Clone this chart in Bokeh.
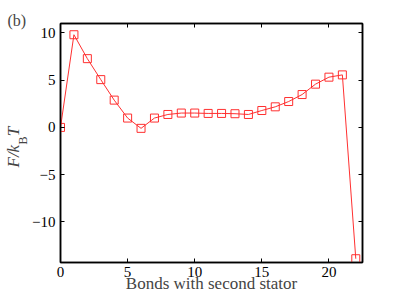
import math
from bokeh.plotting import figure
from bokeh.models import Range1d, LinearAxis, Label, FixedTicker, CustomJSTickFormatter
from bokeh.embed import file_html
from bokeh.resources import INLINE

# ---- data ----
bonds = list(range(0, 23))
free_energy = [0.0, 9.81, 7.28, 5.06, 2.89, 0.99, -0.10, 0.99, 1.37, 1.52, 1.52,
               1.48, 1.48, 1.45, 1.37, 1.79, 2.18, 2.74, 3.48, 4.58, 5.32, 5.56, -13.9]
x_ticks = [0, 5, 10, 15, 20]
y_ticks = [-10, -5, 0, 5, 10]
y_tick_labels = {-10: "\u221210", -5: "\u22125", 0: "0", 5: "5", 10: "10"}
x_label = "Bonds with second stator"
y_label_main = "F/k\u2002T"   # F/k _ T (space left for the subscript)
y_label_sub = "B"
panel_tag = "(b)"

FONT = "Liberation Serif"
RED = "#ff3030"

p = figure(width=399, height=300, output_backend="svg", toolbar_location=None,
           x_range=Range1d(0, 22.5), y_range=Range1d(-14.3, 11.0),
           x_axis_type=None, y_axis_type=None,
           min_border_left=60, min_border_right=37, min_border_top=23, min_border_bottom=38)
p.grid.visible = False
p.outline_line_color = "black"
p.outline_line_width = 1.5
p.background_fill_color = "white"
p.border_fill_color = "white"

def style_axis(ax, ticks, show_labels):
    ax.ticker = FixedTicker(ticks=ticks)
    ax.major_tick_in = 4
    ax.major_tick_out = 0
    ax.major_tick_line_color = "black"
    ax.major_tick_line_width = 1
    ax.minor_tick_line_color = None
    ax.axis_line_color = "black"
    ax.axis_line_width = 1.5
    ax.major_label_text_font = FONT
    ax.major_label_text_font_size = "15px"
    ax.major_label_text_color = "black"
    if not show_labels:
        ax.formatter = CustomJSTickFormatter(code="return ''")
        ax.major_label_text_font_size = "0px"
        ax.major_label_standoff = 0

xb = LinearAxis()
style_axis(xb, x_ticks, True)
xb.major_label_standoff = 4
xb.axis_label = x_label
xb.axis_label_text_font = FONT
xb.axis_label_text_font_size = "17px"
xb.axis_label_text_font_style = "normal"
xb.axis_label_standoff = -6
p.add_layout(xb, "below")

yl = LinearAxis()
style_axis(yl, y_ticks, True)
yl.major_label_standoff = 5
yl.major_label_overrides = y_tick_labels
p.add_layout(yl, "left")

xt = LinearAxis()
style_axis(xt, x_ticks, False)
p.add_layout(xt, "above")

yr = LinearAxis()
style_axis(yr, y_ticks, False)
p.add_layout(yr, "right")

p.line(bonds, free_energy, line_color=RED, line_width=1)
p.scatter(bonds, free_energy, marker="square", size=8, fill_color=None,
          line_color=RED, line_width=1)

# y-axis label F/k_B T (rotated), pieces placed in side panels so they are not clipped
rot = math.pi / 2
p.add_layout(Label(x=3, y=95, x_units="screen", y_units="screen", text=y_label_main,
                   angle=rot, text_font=FONT, text_font_size="17px",
                   text_font_style="italic", text_align="left",
                   text_baseline="alphabetic"), "left")
p.add_layout(Label(x=-340, y=118, x_units="screen", y_units="screen", text=y_label_sub,
                   angle=rot, text_font=FONT, text_font_size="12px",
                   text_align="left", text_baseline="alphabetic"), "right")

# panel tag
p.add_layout(Label(x=-53, y=3, x_units="screen", y_units="screen", text=panel_tag,
                   text_font=FONT, text_font_size="16px", text_align="left",
                   text_baseline="alphabetic"), "above")

open("out.html", "w").write(file_html(p, INLINE))
